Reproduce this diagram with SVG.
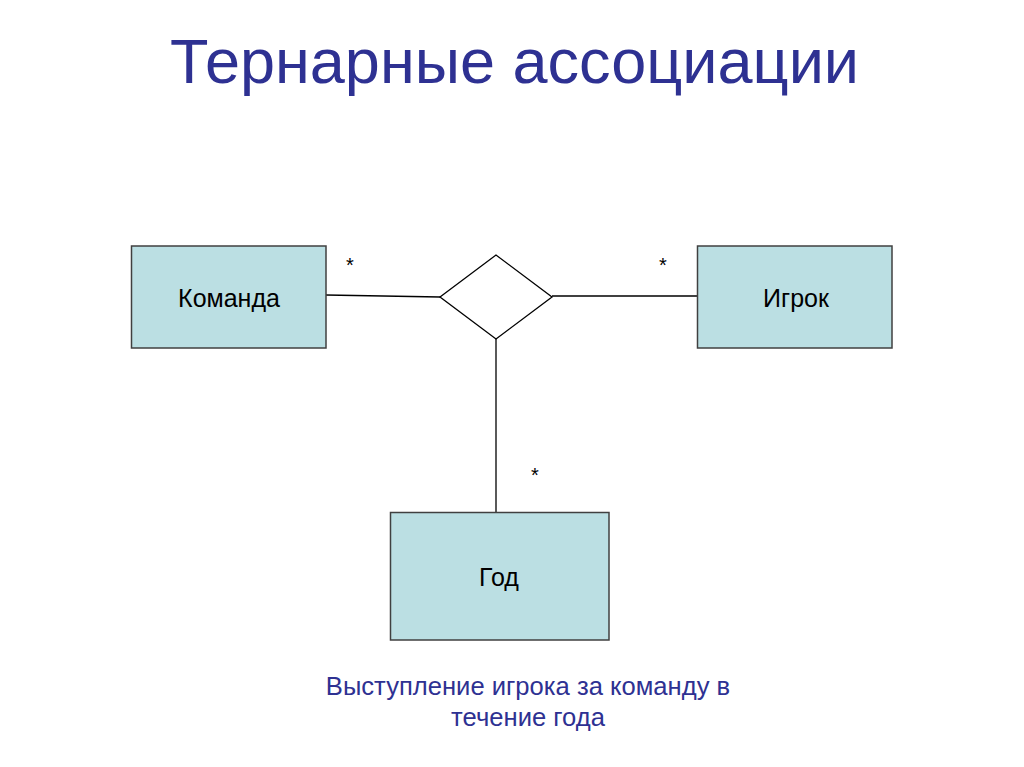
<svg xmlns="http://www.w3.org/2000/svg" width="1024" height="767" viewBox="0 0 1024 767">
<style>
.title{font-family:"Liberation Sans",Arial,sans-serif;font-size:63px;fill:#2E3192}
.sub{font-family:"Liberation Sans",Arial,sans-serif;font-size:25.6px;fill:#2E3192;text-anchor:middle}
.box{fill:#BBDFE3;stroke:#404040;stroke-width:1.5}
.lbl{font-family:"Liberation Sans",Arial,sans-serif;font-size:25px;fill:#000;text-anchor:middle}
.mult{font-family:"Liberation Sans",Arial,sans-serif;font-size:20px;fill:#000;text-anchor:middle}
.conn{stroke:#000;stroke-width:1.3;fill:none}
</style>
<rect width="1024" height="767" fill="#fff"/>
<text class="title" x="170" y="83">Тернарные ассоциации</text>
<g id="connectors">
<line class="conn" x1="326" y1="295" x2="440" y2="297"/>
<line class="conn" x1="552" y1="296" x2="697" y2="296"/>
<line class="conn" x1="496" y1="339" x2="496" y2="512"/>
</g>
<g id="association">
<polygon points="440,297 496,255 552,297 496,339" fill="#fff" stroke="#000" stroke-width="1.3"/>
</g>
<g id="team">
<rect class="box" x="131.5" y="246" width="194.5" height="102"/>
<text class="lbl" x="229" y="307">Команда</text>
</g>
<g id="player">
<rect class="box" x="697.5" y="246" width="194.5" height="102"/>
<text class="lbl" x="796" y="307">Игрок</text>
</g>
<g id="year">
<rect class="box" x="390.5" y="512.5" width="218.5" height="127.5"/>
<text class="lbl" x="499" y="586">Год</text>
</g>
<text class="mult" x="350" y="272">*</text>
<text class="mult" x="663" y="272">*</text>
<text class="mult" x="535" y="482">*</text>
<text class="sub" x="528" y="695">Выступление игрока за команду в</text>
<text class="sub" x="528" y="726">течение года</text>
</svg>
